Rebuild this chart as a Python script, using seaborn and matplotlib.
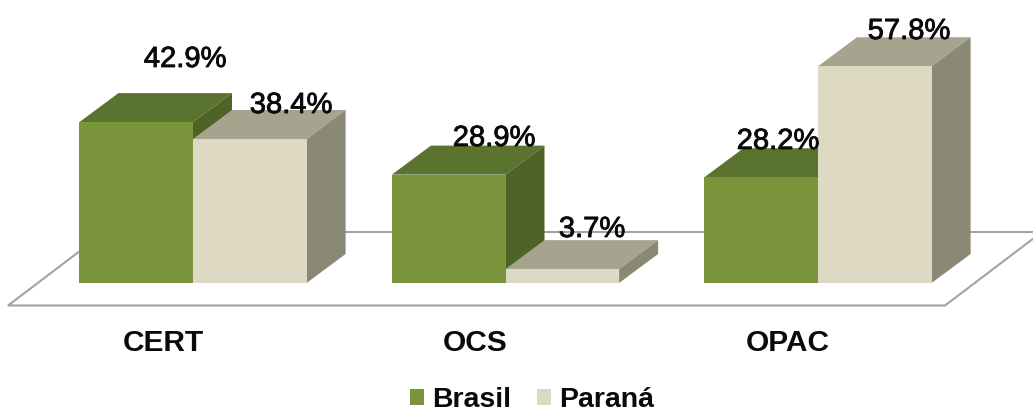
import matplotlib
matplotlib.use('Agg')
import matplotlib.pyplot as plt
import matplotlib.patheffects as pe
import numpy as np
import pandas as pd
import seaborn as sns
from matplotlib.patches import Polygon

categories = ['CERT', 'OCS', 'OPAC']
brasil = [42.9, 28.9, 28.2]
parana = [38.4, 3.7, 57.8]
series_names = ['Brasil', 'Paraná']

# where the value labels sit (centre x, baseline y), in px of the 1033x415 image
label_px_x = [[185, 494, 778], [291, 592, 909]]
label_px_y = [[67, 146, 149], [113, 237, 39]]

W, H = 1033, 415
BASE = 283        # px of value 0
PX_PER_VAL = 3.75
PX_PER_CAT = 312.5
CAT0 = 193        # px of first category centre
DEPTH_X, DEPTH_Y = 39, 29
TICK_SHIFT = 30   # category names sit left of the group centre

front = ['#7A943C', '#DDD9C3']
top = ['#5A7430', '#A6A48F']
side = ['#4E6426', '#8A8975']


def xd(px):
    return (px - CAT0) / PX_PER_CAT


def yd(py):
    return (BASE - py) / PX_PER_VAL


sns.set_theme(style='white')
plt.rcParams['font.family'] = ['Liberation Sans', 'DejaVu Sans']

df = pd.DataFrame({
    'cat': categories * 2,
    'serie': [series_names[0]] * 3 + [series_names[1]] * 3,
    'val': brasil + parana,
})

fig = plt.figure(figsize=(W / 100, H / 100), dpi=100)
ax = fig.add_axes([0, 1 - BASE / H, 1, BASE / H])
sns.barplot(data=df, x='cat', y='val', hue='serie', palette=front, width=0.727,
            saturation=1, linewidth=0, errorbar=None, ax=ax, zorder=4)

ax.set_xlim(xd(0), xd(W))
ax.set_ylim(0, yd(0))
ax.set_xlabel(None)
ax.set_ylabel(None)
ax.set_yticks([])
ax.patch.set_alpha(0)
sns.despine(ax=ax, left=True, bottom=True)
ax.set_xticks(np.arange(len(categories)) - TICK_SHIFT / PX_PER_CAT, categories)
ax.tick_params(axis='x', length=0, pad=33)
for t in ax.get_xticklabels():
    t.set_fontsize(21.5)
    t.set_fontweight('bold')
    t.set_color('#0A0A0A')

# floor outline
floor_x = [xd(105), xd(8), xd(945), xd(1042)]
floor_y = [yd(232), yd(305.5), yd(305.5), yd(232)]
ax.add_patch(Polygon(list(zip(floor_x, floor_y)), closed=True, fill=False,
                     edgecolor='#A3A3A3', lw=1.5, clip_on=False, zorder=1))

# fake 3d: top and side faces from the real bars
dx = DEPTH_X / PX_PER_CAT
dy = DEPTH_Y / PX_PER_VAL
for i, cont in enumerate(ax.containers):
    for bar in cont:
        x0 = bar.get_x()
        x1 = x0 + bar.get_width()
        h = bar.get_height()
        ax.add_patch(Polygon([(x0, h), (x0 + dx, h + dy), (x1 + dx, h + dy), (x1, h)],
                             fc=top[i], ec='none', zorder=2 + i))
        ax.add_patch(Polygon([(x1, 0), (x1 + dx, dy), (x1 + dx, h + dy), (x1, h)],
                             fc=side[i], ec='none', zorder=2 + i))

for i, vals in enumerate([brasil, parana]):
    for j, v in enumerate(vals):
        ax.text(xd(label_px_x[i][j]), yd(label_px_y[i][j]), f'{v:.1f}%', fontsize=21,
                ha='center', va='baseline', color='#0A0A0A', zorder=6, clip_on=False,
                path_effects=[pe.withStroke(linewidth=0.6, foreground='#0A0A0A')])

handles, labels = ax.get_legend_handles_labels()
ax.get_legend().remove()
leg = fig.legend(handles, labels, ncols=2, loc='center', bbox_to_anchor=(532 / W, 1 - 400 / H),
                 frameon=False, prop={'size': 20.5, 'weight': 'bold'},
                 handlelength=0.49, handleheight=0.49, handletextpad=0.3, columnspacing=0.9,
                 labelcolor='#0A0A0A')

fig.savefig('out.png', dpi=100)
